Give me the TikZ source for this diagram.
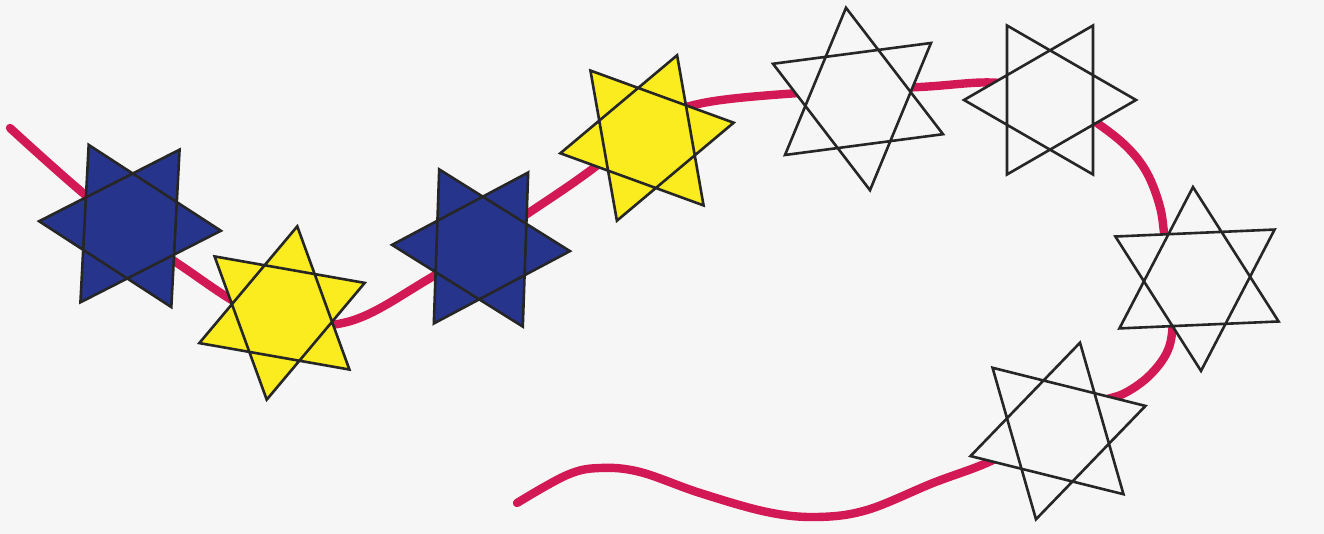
\documentclass[tikz,border=0pt]{standalone}
\usepackage{xcolor}
\usepackage{tikz}

\definecolor{paper}{RGB}{246,246,246}
\definecolor{ribbon}{RGB}{210,25,85}
\definecolor{starblue}{RGB}{38,52,140}
\definecolor{staryellow}{RGB}{250,236,30}

\tikzset{
  hexa/.pic={
    \path[pic actions] (90:1) -- (210:1) -- (330:1) -- cycle
                       (30:1) -- (150:1) -- (270:1) -- cycle;
  },
  starline/.style={draw=black!85, line width=1.3pt, line join=miter},
  bluestar/.style={starline, fill=starblue},
  yellowstar/.style={starline, fill=staryellow},
  openstar/.style={starline, fill=paper},
  cord/.style={draw=ribbon, line width=4.2pt, line cap=round}
}

\begin{document}
\begin{tikzpicture}[x=0.5pt, y=0.5pt]
\fill[paper] (0,0) rectangle (1324,534);
\useasboundingbox (0,0) rectangle (1324,534);

\coordinate (1) at (130,308);
\coordinate (2) at (282,221);
\coordinate (3) at (481,286);
\coordinate (4) at (647,396);
\coordinate (5) at (858,435);
\coordinate (6) at (1050,434);
\coordinate (7) at (1197,255);
\coordinate (8) at (1058,103);

\draw[cord] plot[smooth, tension=0.6] coordinates {
  (10,406) (95,331) (180,269) (262,219) (343,211) (427,254) (533,324)
  (587,361) (650,409) (703,431) (813,442) (920,447) (1000,451) (1060,434)
  (1097,411) (1127,387) (1147,361) (1160,327) (1165,294) (1172,250)
  (1173,214) (1168,184) (1150,159) (1125,141) (1097,131) (1040,104)
  (993,74) (933,51) (867,24) (817,17) (767,22) (700,41) (640,62)
  (600,66) (567,59) (517,31)};

\pic[bluestar, rotate=27, scale=91] at (1) {hexa};
\pic[yellowstar, rotate=-10, scale=88] at (2) {hexa};
\pic[bluestar, rotate=28, scale=89] at (3) {hexa};
\pic[yellowstar, rotate=-20, scale=88] at (4) {hexa};
\pic[openstar, rotate=7.5, scale=92] at (5) {hexa};
\pic[openstar, rotate=30, scale=86] at (6) {hexa};
\pic[openstar, rotate=2.5, scale=92] at (7) {hexa};
\pic[openstar, rotate=-14, scale=91] at (8) {hexa};
\end{tikzpicture}
\end{document}
